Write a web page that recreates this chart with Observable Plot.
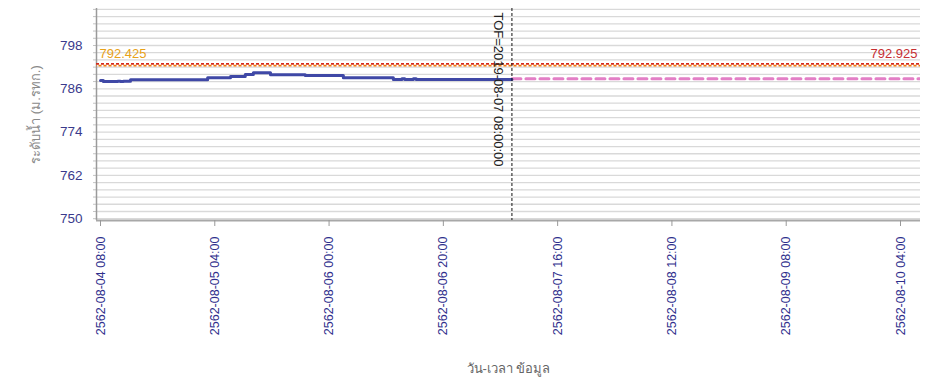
<!DOCTYPE html>
<html>
<head>
<meta charset="utf-8">
<script src="https://cdn.jsdelivr.net/npm/d3@7"></script>
<script src="https://cdn.jsdelivr.net/npm/@observablehq/plot@0.6"></script>
<style>
  html, body { margin: 0; padding: 0; background: #fff; }
  #chart svg { display: block; }
</style>
</head>
<body>
<div id="chart"></div>
<script>
// ---- data ----
const obsTimes = [
  "2019-08-04T08:00Z", "2019-08-04T08:30Z", "2019-08-04T11:00Z", "2019-08-04T11:30Z",
  "2019-08-04T12:00Z", "2019-08-04T13:15Z", "2019-08-05T02:45Z", "2019-08-05T06:45Z",
  "2019-08-05T09:20Z", "2019-08-05T10:45Z", "2019-08-05T13:45Z", "2019-08-05T19:50Z",
  "2019-08-06T02:30Z", "2019-08-06T11:15Z", "2019-08-06T12:45Z", "2019-08-06T13:15Z",
  "2019-08-06T14:45Z", "2019-08-06T15:15Z", "2019-08-07T08:00Z"
];
const obsValues = [
  788.31, 788.03, 788.12, 788.03,
  788.12, 788.50, 789.06, 789.42,
  789.97, 790.44, 789.89, 789.70,
  789.06, 788.59, 788.78, 788.59,
  788.78, 788.59, 788.59
];
const forecastTimes = ["2019-08-07T08:00Z", "2019-08-10T08:00Z"];
const forecastValues = [788.78, 788.78];
const thresholdLow = 792.425;
const thresholdHigh = 792.925;
const tofTime = "2019-08-07T08:00Z";
const tofLabel = "TOF=2019-08-07 08:00:00";
const xTickTimes = [
  "2019-08-04T08:00Z", "2019-08-05T04:00Z", "2019-08-06T00:00Z", "2019-08-06T20:00Z",
  "2019-08-07T16:00Z", "2019-08-08T12:00Z", "2019-08-09T08:00Z", "2019-08-10T04:00Z"
];
const xTickLabels = [
  "2562-08-04 08:00", "2562-08-05 04:00", "2562-08-06 00:00", "2562-08-06 20:00",
  "2562-08-07 16:00", "2562-08-08 12:00", "2562-08-09 08:00", "2562-08-10 04:00"
];
const yTickValues = [750, 762, 774, 786, 798];
const yGridValues = d3.range(750, 809, 2);
const xDomain = ["2019-08-04T07:18Z", "2019-08-10T07:30Z"];
const yDomain = [749.5, 808.25];
const yLabel = "ระดับน้ำ (ม.รทก.)";
const xLabel = "วัน-เวลา ข้อมูล";

// ---- build ----
const P = s => new Date(s);
const obs = obsTimes.map((t, i) => ({t: P(t), v: obsValues[i]}));
const fc = forecastTimes.map((t, i) => ({t: P(t), v: forecastValues[i]}));
const xt = xTickTimes.map(P);
const labelFor = new Map(xt.map((d, i) => [+d, xTickLabels[i]]));
const xd = xDomain.map(P);

const font = "'Liberation Sans', Arial, sans-serif";

const chart = Plot.plot({
  width: 926,
  height: 379,
  marginLeft: 96,
  marginRight: 6,
  marginTop: 8,
  marginBottom: 159,
  style: {fontFamily: font, fontSize: "13px", background: "#fff"},
  x: {type: "utc", domain: xd},
  y: {domain: yDomain},
  marks: [
    // grid lines every 2 units
    Plot.gridY(yGridValues, {stroke: "#d9d9d9", strokeOpacity: 1, strokeWidth: 1.3}),
    // minor ticks on left axis
    Plot.axisY({ticks: yGridValues, tickSize: 3, tickFormat: () => "", stroke: "#c4c4c4", label: null}),
    // labelled y ticks
    Plot.axisY({
      ticks: yTickValues, tickSize: 0, tickPadding: 14,
      fill: "#3a3a8c", fontSize: 13.5, label: null
    }),
    // y axis title
    Plot.axisY({ticks: [], label: yLabel, labelAnchor: "center", labelOffset: 66, labelArrow: "none", fill: "#8a8a8a", fontSize: 13}),
    // axis lines
    Plot.ruleX([xd[0]], {stroke: "#9a9a9a", strokeWidth: 1.5}),
    Plot.ruleY([yDomain[0]], {stroke: "#a8a8a8", strokeWidth: 2}),
    // x axis
    Plot.axisX({
      ticks: xt, tickSize: 6, tickRotate: -90, tickPadding: 10,
      tickFormat: d => labelFor.get(+d), stroke: "#999",
      fill: "#2e2e8c", fontSize: 12.5, label: null
    }),
    Plot.axisX({ticks: [], label: xLabel, labelAnchor: "center", labelOffset: 152, labelArrow: "none", fill: "#666", fontSize: 13}),
    // threshold lines
    Plot.ruleY([thresholdHigh], {stroke: "#d42a1c", strokeWidth: 1.8, strokeDasharray: "3,2"}),
    Plot.ruleY([thresholdLow], {stroke: "#f07a10", strokeWidth: 1.8, strokeDasharray: "3,2", strokeDashoffset: 2.5}),
    Plot.text([thresholdLow], {x: xd[0], y: d => d, text: d => d.toFixed(3), textAnchor: "start", dx: 3, dy: -12, fill: "#e8a219", fontSize: 13}),
    Plot.text([thresholdHigh], {x: xd[1], y: thresholdLow, text: d => d.toFixed(3), textAnchor: "end", dx: -3, dy: -12, fill: "#c62f32", fontSize: 13}),
    // forecast
    Plot.line(fc, {x: "t", y: "v", stroke: "#e37fc6", strokeWidth: 3, strokeDasharray: "9,5", clip: true}),
    // observed
    Plot.line(obs, {x: "t", y: "v", curve: "step-after", stroke: "#3f48a6", strokeWidth: 3}),
    // TOF line
    Plot.ruleX([P(tofTime)], {stroke: "#111", strokeWidth: 1, strokeDasharray: "3,2"}),
    Plot.text([tofLabel], {x: P(tofTime), y: yDomain[1], text: d => d, rotate: 90, textAnchor: "start", dx: -14, dy: 4, fill: "#222", fontSize: 13})
  ]
});
document.getElementById("chart").appendChild(chart);
</script>
</body>
</html>
